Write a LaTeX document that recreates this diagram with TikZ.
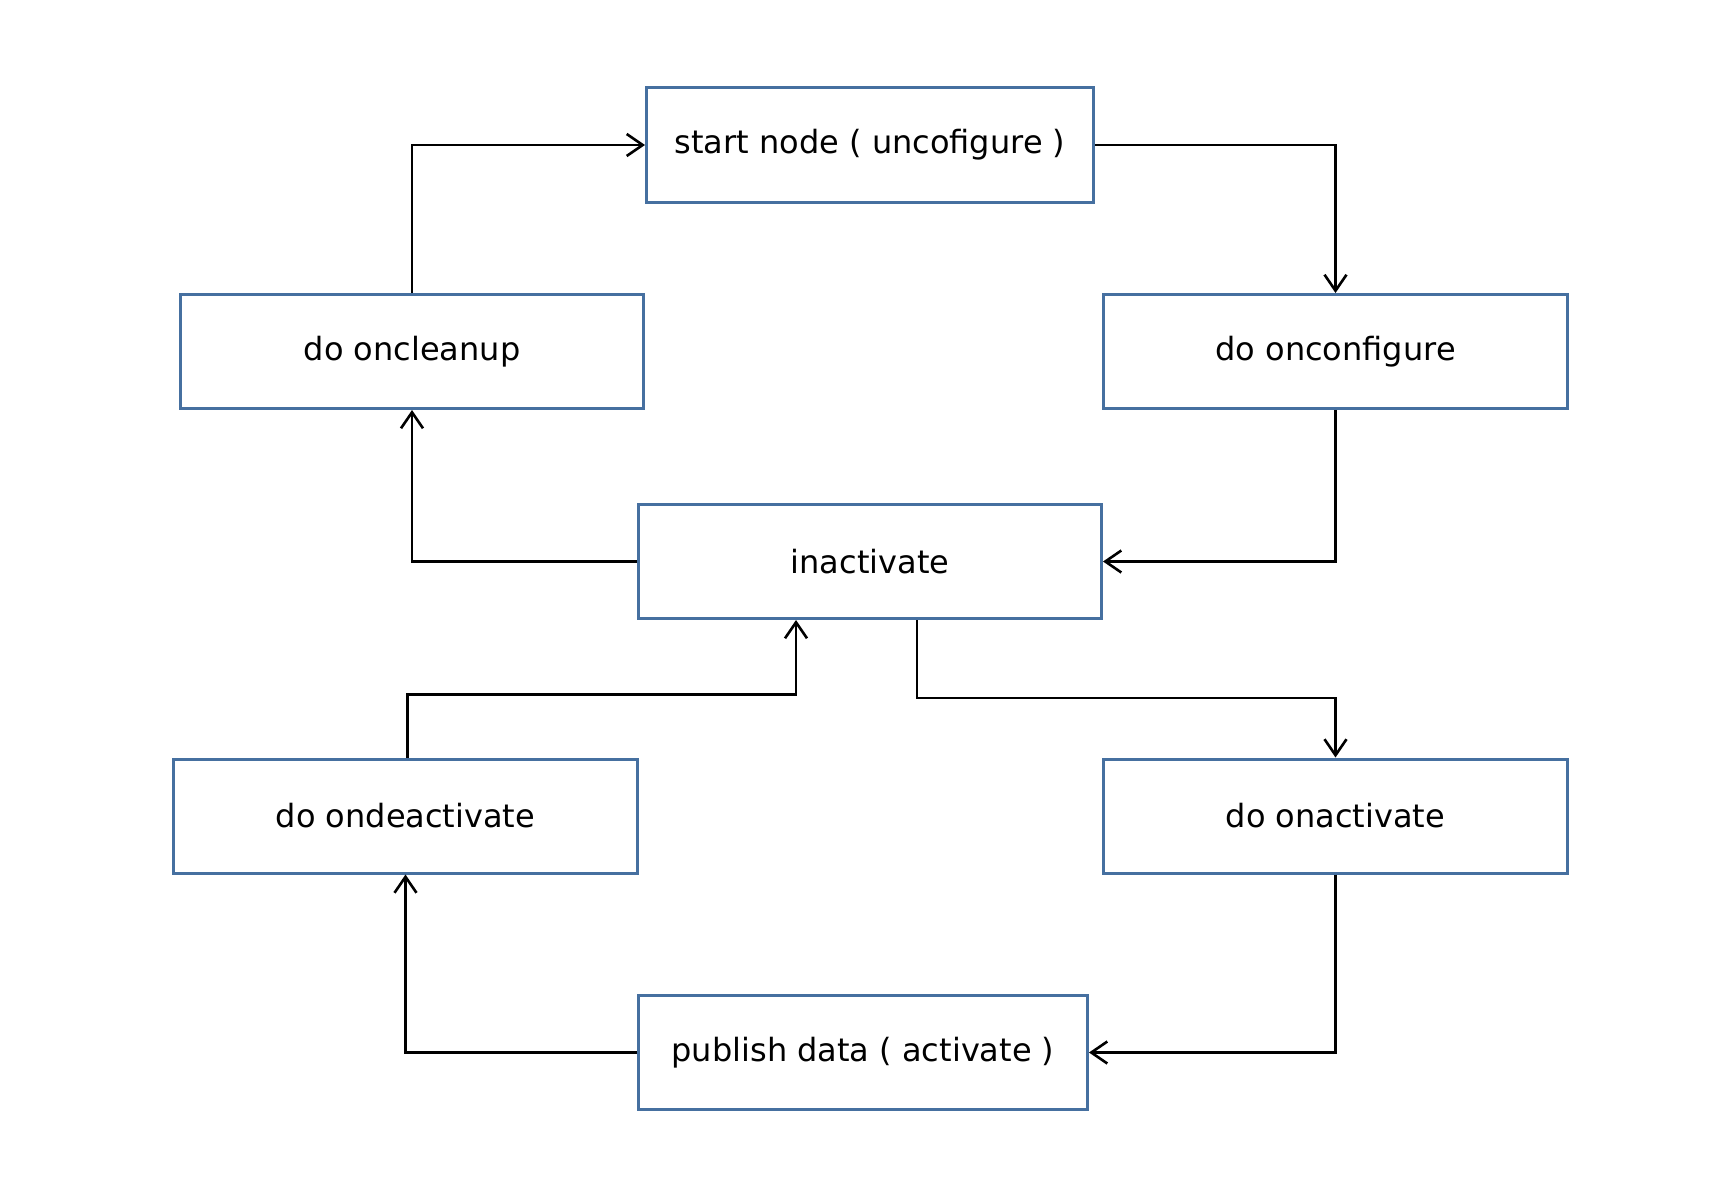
\documentclass[tikz,border=0pt]{standalone}
\usepackage{fontspec}
\setmainfont{DejaVu Sans}
\usetikzlibrary{arrows.meta}
\definecolor{boxblue}{RGB}{70,112,160}
\begin{document}
\begin{tikzpicture}[x=1pt,y=-1pt,
  statebox/.style={draw=boxblue,line width=3pt,fill=white,minimum height=114pt,inner sep=0pt,
    font=\fontsize{32}{38}\selectfont},
  conn/.style={draw=black,line width=2.6pt,-{Straight Barb[length=16pt,width=22pt,line width=2.6pt]}}]
\useasboundingbox (0,0) rectangle (1720,1180);
\node[statebox,minimum width=447pt] (start) at (870,145) {start node ( uncofigure )};
\node[statebox,minimum width=463pt] (cleanup) at (412,351.5) {do oncleanup};
\node[statebox,minimum width=464pt] (onconf) at (1335.5,351.5) {do onconfigure};
\node[statebox,minimum width=463pt] (inact) at (870,561.5) {inactivate};
\node[statebox,minimum width=464pt] (ondeact) at (405.5,816) {do ondeactivate};
\node[statebox,minimum width=464pt] (onact) at (1335.5,816) {do onactivate};
\node[statebox,minimum width=449pt] (pub) at (863,1052.5) {publish data ( activate )};
\draw[conn] (cleanup.north) |- (start.west);
\draw[conn] (start.east) -| (onconf.north);
\draw[conn] (onconf.south) |- (inact.east);
\draw[conn] (inact.west) -| (cleanup.south);
\draw[conn] ([xshift=47pt]inact.south) -- ++(0,78) -| (onact.north);
\draw[conn] ([xshift=2pt]ondeact.north) -- ++(0,-63) -| ([xshift=-74pt]inact.south);
\draw[conn] (onact.south) |- (pub.east);
\draw[conn] (pub.west) -| (ondeact.south);
\end{tikzpicture}
\end{document}
